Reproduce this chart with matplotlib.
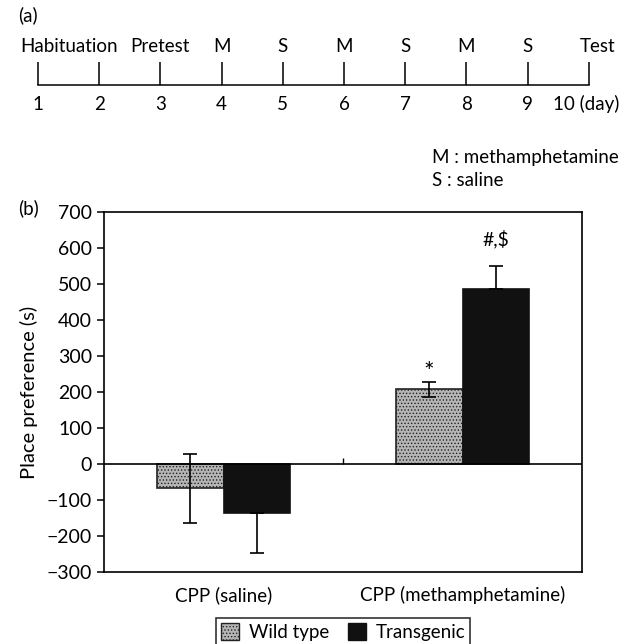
import matplotlib
matplotlib.use("Agg")
import matplotlib.pyplot as plt
from matplotlib.patches import Patch

plt.rcParams['font.family'] = ['Lato', 'DejaVu Sans']
plt.rcParams['font.size'] = 13.5
plt.rcParams['hatch.linewidth'] = 0.6

# (a) timeline
days = [1, 2, 3, 4, 5, 6, 7, 8, 9, 10]
day_labels = ['1', '2', '3', '4', '5', '6', '7', '8', '9', '10 (day)']
events = ['Habituation', 'Pretest', 'M', 'S', 'M', 'S', 'M', 'S', 'Test']
event_pos = [1.5, 3, 4, 5, 6, 7, 8, 9, 10.15]

# (b) bar chart
groups = ['CPP (saline)', 'CPP (methamphetamine)']
wild_mean = [-68, 207]
wild_err_lo = [95, 20]
wild_err_hi = [95, 20]
tg_mean = [-136, 485]
tg_err_lo = [110, 0]
tg_err_hi = [0, 66]
marks = ['*', '#,$']
mark_y = [255, 625]

fig = plt.figure(figsize=(6.31, 6.44), dpi=100)

# ---- panel (a)
ax_t = fig.add_axes([0, 0.70, 1, 0.30])
ax_t.set_xlim(1 - 38 / 61.2, 1 + 593 / 61.2)
ax_t.set_ylim(193.2, 0)   # y in pixels from top
ax_t.axis('off')
ax_t.plot([days[0], days[-1]], [85, 85], color='black', lw=1.1)
ax_t.vlines(days, 62, 85, color='black', lw=1.1)
for d, lab in zip(days[:-1], day_labels[:-1]):
    ax_t.text(d, 104, lab, ha='center', va='center')
ax_t.text(days[-1] - 0.05, 104, day_labels[-1], ha='center', va='center')
for p, ev in zip(event_pos, events):
    ax_t.text(p, 47, ev, ha='center', va='center')
fig.text(18 / 631, 1 - 15 / 644, '(a)', ha='left', va='center')
fig.text(432 / 631, 1 - 157 / 644, 'M : methamphetamine', ha='left', va='center')
fig.text(432 / 631, 1 - 181 / 644, 'S : saline', ha='left', va='center')

# ---- panel (b)
ax = fig.add_axes([104 / 631, 1 - 572 / 644, 478 / 631, 360 / 644])
x = [0, 1]
w = 0.28
xw = [i - w / 2 for i in x]
xt = [i + w / 2 for i in x]
ax.bar(xw, wild_mean, width=w, facecolor='#b5b5b5', edgecolor='#222222',
       hatch='.....', linewidth=1.2, zorder=2)
ax.bar(xt, tg_mean, width=w, color='#111111', edgecolor='#111111',
       linewidth=1.2, zorder=2)
ax.errorbar(xw, wild_mean, yerr=[wild_err_lo, wild_err_hi], fmt='none',
            ecolor='black', elinewidth=1.2, capsize=5, capthick=1.2, zorder=3)
ax.errorbar(xt, tg_mean, yerr=[tg_err_lo, tg_err_hi], fmt='none',
            ecolor='black', elinewidth=1.2, capsize=5, capthick=1.2, zorder=3)
ax.text(xw[1], mark_y[0], marks[0], ha='center', va='center', fontsize=18)
ax.text(xt[1], mark_y[1], marks[1], ha='center', va='center', fontsize=14)

ax.axhline(0, color='black', lw=1.2, zorder=4)
ax.vlines(0.5, 0, 18, color='black', lw=1)

ax.set_xlim(-0.5, 1.5)
ax.set_ylim(-300, 700)
ax.set_yticks(range(-300, 701, 100))
ax.set_xticks(x)
ax.set_xticklabels(groups)
ax.tick_params(axis='x', length=0, pad=10)
ax.tick_params(axis='y', length=5, width=1.1, direction='out', labelsize=14)
for s in ax.spines.values():
    s.set_linewidth(1.2)
ax.set_ylabel('Place preference (s)', labelpad=6, fontsize=14.5)
fig.text(18 / 631, 1 - 208 / 644, '(b)', ha='left', va='center')

handles = [Patch(facecolor='#b5b5b5', edgecolor='#222222', hatch='.....', label='Wild type'),
           Patch(facecolor='#111111', edgecolor='#111111', label='Transgenic')]
leg = fig.legend(handles=handles, loc='upper center', ncol=2,
                 bbox_to_anchor=(343 / 631, 1 - 609 / 644), frameon=True,
                 fancybox=False, edgecolor='black', handlelength=1.0,
                 handleheight=1.0, columnspacing=1.0, handletextpad=0.5,
                 borderpad=0.25, fontsize=13.5)
leg.get_frame().set_linewidth(1.2)

fig.savefig('out.png', dpi=100)
